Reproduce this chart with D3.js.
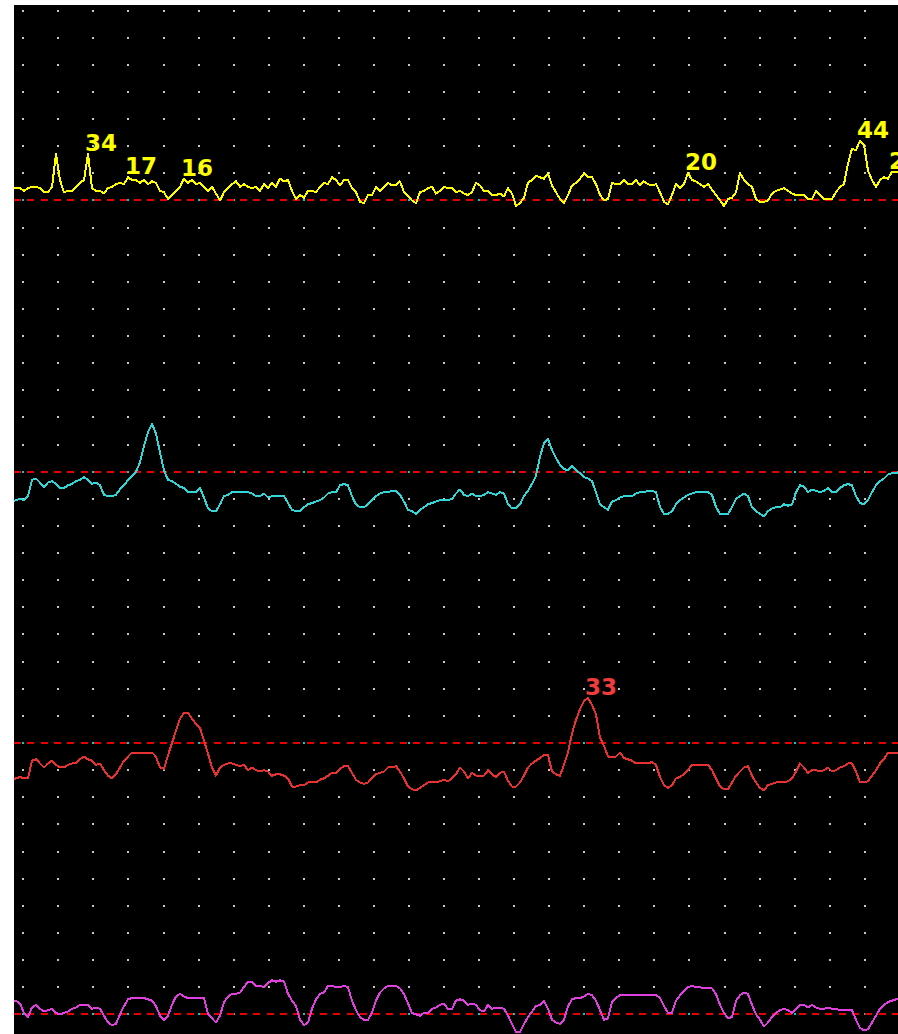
<!DOCTYPE html>
<html>
<head>
<meta charset="utf-8">
<script src="https://cdn.jsdelivr.net/npm/d3@7/dist/d3.min.js"></script>
<style>
  html, body { margin: 0; padding: 0; background: #ffffff; }
  svg { display: block; }
</style>
</head>
<body>
<script>
// ---- DATA (sample index 0..222, one sample every trace step) ----
const yellowTrace = [
  9,9,9,7,9,10,10,9,6,6,
  10,34,15,6,7,7,10,13,15,34,
  9,7,7,5,9,10,12,13,12,17,
  15,15,13,15,12,14,13,7,6,1,
  4,7,10,16,13,15,12,13,10,7,
  10,5,0,6,9,12,14,10,12,10,
  9,10,7,12,9,13,10,16,14,15,
  7,1,4,2,7,7,6,10,13,12,
  17,15,11,15,15,9,6,-1,-2,4,
  4,10,7,10,13,11,11,14,6,3,
  0,-2,6,7,9,10,5,7,10,9,
  9,6,7,5,4,6,13,11,7,7,
  4,4,5,3,9,5,-4,-2,2,13,
  15,18,17,16,20,11,6,1,-2,4,
  11,13,16,20,17,17,12,4,0,1,
  13,12,12,15,12,12,15,11,14,12,
  11,12,6,-1,-3,4,12,9,12,20,
  15,14,12,10,12,8,4,0,-4,1,
  2,6,20,15,12,10,1,-1,-1,0,
  5,7,8,9,7,5,4,4,4,1,
  1,7,4,1,1,1,6,10,12,27,
  38,37,44,41,22,15,10,15,17,16,
  21,21,21
];
const cyanTrace = [
  -22,-21,-20,-21,-18,-6,-5,-8,-11,-8,
  -7,-9,-12,-12,-10,-9,-7,-6,-4,-6,
  -9,-8,-10,-17,-18,-18,-17,-13,-10,-6,
  -3,0,7,19,29,35,28,14,1,-6,
  -7,-9,-11,-12,-15,-15,-15,-12,-19,-27,
  -29,-29,-24,-18,-17,-15,-15,-15,-15,-15,
  -16,-18,-18,-16,-19,-18,-18,-18,-18,-23,
  -28,-29,-29,-26,-24,-23,-22,-21,-19,-16,
  -15,-15,-10,-9,-10,-18,-24,-26,-26,-24,
  -21,-18,-16,-15,-15,-14,-14,-17,-22,-28,
  -29,-31,-28,-26,-24,-23,-22,-21,-21,-21,
  -20,-16,-13,-17,-18,-16,-18,-18,-17,-15,
  -16,-17,-15,-16,-24,-27,-27,-24,-18,-14,
  -9,-3,11,21,24,16,10,5,2,1,
  4,1,-1,-4,-5,-7,-15,-24,-26,-28,
  -22,-21,-19,-18,-18,-18,-16,-15,-15,-14,
  -14,-15,-26,-31,-31,-29,-24,-21,-19,-17,
  -16,-15,-15,-15,-15,-17,-26,-31,-31,-31,
  -26,-20,-18,-16,-18,-26,-29,-31,-33,-29,
  -27,-26,-26,-24,-25,-24,-15,-10,-11,-15,
  -13,-14,-15,-14,-12,-15,-15,-12,-10,-9,
  -10,-18,-23,-24,-21,-15,-10,-7,-5,-2,
  -1,-1,0
];
const redTrace = [
  -27,-26,-25,-26,-26,-13,-12,-15,-18,-15,
  -13,-16,-18,-18,-16,-15,-15,-12,-10,-12,
  -13,-16,-15,-20,-24,-26,-23,-18,-13,-10,
  -7,-7,-7,-7,-7,-7,-10,-18,-19,-9,
  0,9,18,22,22,18,14,11,2,-8,
  -18,-24,-18,-16,-15,-15,-16,-17,-16,-20,
  -18,-20,-21,-20,-21,-24,-23,-23,-24,-26,
  -32,-32,-31,-31,-29,-29,-29,-27,-26,-24,
  -22,-22,-19,-17,-17,-22,-27,-29,-30,-29,
  -26,-23,-22,-21,-18,-18,-17,-21,-26,-32,
  -34,-35,-33,-31,-29,-29,-29,-28,-27,-28,
  -26,-23,-18,-21,-26,-22,-24,-24,-24,-20,
  -23,-25,-22,-21,-28,-32,-32,-29,-24,-18,
  -15,-13,-11,-9,-9,-21,-23,-24,-16,-7,
  7,17,25,31,33,28,21,4,-2,-10,
  -10,-10,-7,-11,-12,-13,-15,-15,-15,-15,
  -14,-16,-25,-31,-33,-31,-26,-25,-23,-20,
  -16,-16,-16,-16,-16,-20,-26,-32,-34,-34,
  -29,-24,-21,-18,-17,-24,-29,-33,-35,-31,
  -30,-29,-29,-29,-28,-26,-21,-15,-18,-22,
  -20,-20,-21,-20,-18,-21,-20,-18,-17,-15,
  -15,-21,-29,-29,-28,-24,-20,-15,-12,-7,
  -7,-7,-7
];
const magentaTrace = [
  10,10,8,1,-2,5,7,4,2,3,
  4,1,0,1,2,4,5,7,7,7,
  4,5,4,-1,-6,-8,-7,0,6,11,
  12,12,12,12,11,10,6,-1,-4,-1,
  7,13,15,13,12,12,12,12,12,0,
  -3,-6,-1,9,13,15,15,16,20,24,
  24,21,21,20,23,25,24,25,24,15,
  10,6,-4,-8,-6,4,11,15,16,21,
  21,20,20,21,20,10,3,-2,-4,-4,
  1,10,16,19,21,21,21,19,15,8,
  1,0,-1,1,1,4,5,7,8,4,
  4,10,11,10,7,8,7,3,2,7,
  4,5,5,4,-1,-7,-13,-13,-7,-2,
  2,6,7,10,4,-4,-6,-7,-4,6,
  11,12,12,13,15,14,10,3,-4,-3,
  9,12,14,14,14,14,14,14,14,14,
  14,14,12,6,1,1,10,14,17,20,
  21,20,20,19,19,19,15,7,1,-3,
  -2,10,14,16,15,7,0,-4,-9,-6,
  -2,1,3,4,3,1,4,7,7,5,
  7,5,4,4,5,4,4,3,3,3,
  3,-4,-10,-12,-11,-6,-1,4,7,9,
  10,11,11
];
// labelled peaks (sample indices)
const yellowPeakIdx = [19, 29, 43, 169, 212, 220];
const redPeakIdx = [144];
// grid
const gridColumns = d3.range(25);
const gridRows = d3.range(38);
const baselineRows = [7, 17, 27, 37];

// ---- DRAWING ----
const W = 898, H = 1034;
const svg = d3.select("body").append("svg").attr("width", W).attr("height", H);

const plot = { left: 14, top: 5, right: 898, bottom: 1034 };
svg.append("rect").attr("x", plot.left).attr("y", plot.top)
  .attr("width", plot.right - plot.left).attr("height", plot.bottom - plot.top)
  .attr("fill", "#000");

svg.append("defs").append("clipPath").attr("id", "clip")
  .append("rect").attr("x", plot.left).attr("y", plot.top)
  .attr("width", plot.right - plot.left).attr("height", plot.bottom - plot.top);

const g = svg.append("g").attr("clip-path", "url(#clip)");

const N = yellowTrace.length;
const x = d3.scaleLinear().domain([0, N - 1]).range([12, 900]);
const gx = d3.scaleLinear().domain([0, 1]).range([23.3, 58.36]);
const gy = d3.scaleLinear().domain([0, 1]).range([10.5, 37.63]);

// grid dots
const dots = [];
gridRows.forEach(r => gridColumns.forEach(c => dots.push({ r, c })));
g.append("g").selectAll("rect").data(dots).join("rect")
  .attr("x", d => Math.round(gx(d.c)) - 1)
  .attr("y", d => Math.round(gy(d.r)) - 1)
  .attr("width", 2).attr("height", 2)
  .attr("fill", d => baselineRows.includes(d.r) ? "#10c8c8" : "#c8c8c8")
  .attr("shape-rendering", "crispEdges");

// baselines (dashed)
g.append("g").selectAll("line").data(baselineRows).join("line")
  .attr("x1", plot.left).attr("x2", plot.right)
  .attr("y1", d => Math.round(gy(d)))
  .attr("y2", d => Math.round(gy(d)))
  .attr("stroke", "#e80000").attr("stroke-width", 2)
  .attr("stroke-dasharray", "7 6.3")
  .attr("shape-rendering", "crispEdges");

const series = [
  { values: yellowTrace, color: "#ffff00", row: 7, peaks: yellowPeakIdx, labelColor: "#ffff00" },
  { values: cyanTrace, color: "#33d6d6", row: 17, peaks: [], labelColor: "#33d6d6" },
  { values: redTrace, color: "#e83232", row: 27, peaks: redPeakIdx, labelColor: "#f03c3c" },
  { values: magentaTrace, color: "#e040e0", row: 37, peaks: [], labelColor: "#e040e0" }
];

series.forEach(s => {
  const base = gy(s.row);
  const y = d3.scaleLinear().domain([-100, 100]).range([base + 136, base - 136]);
  const line = d3.line().x((d, i) => x(i)).y(d => y(d));
  g.append("path").datum(s.values)
    .attr("d", line)
    .attr("fill", "none")
    .attr("stroke", s.color)
    .attr("stroke-width", 2)
    .attr("stroke-linejoin", "round")
    .attr("shape-rendering", "crispEdges");
  g.append("g").selectAll("text").data(s.peaks).join("text")
    .attr("x", i => x(i) - 3)
    .attr("y", i => y(s.values[i]) - 3)
    .attr("fill", s.labelColor)
    .attr("font-family", "DejaVu Sans, sans-serif")
    .attr("font-weight", "bold")
    .attr("font-size", 23)
    .text(i => s.values[i]);
});
</script>
</body>
</html>
